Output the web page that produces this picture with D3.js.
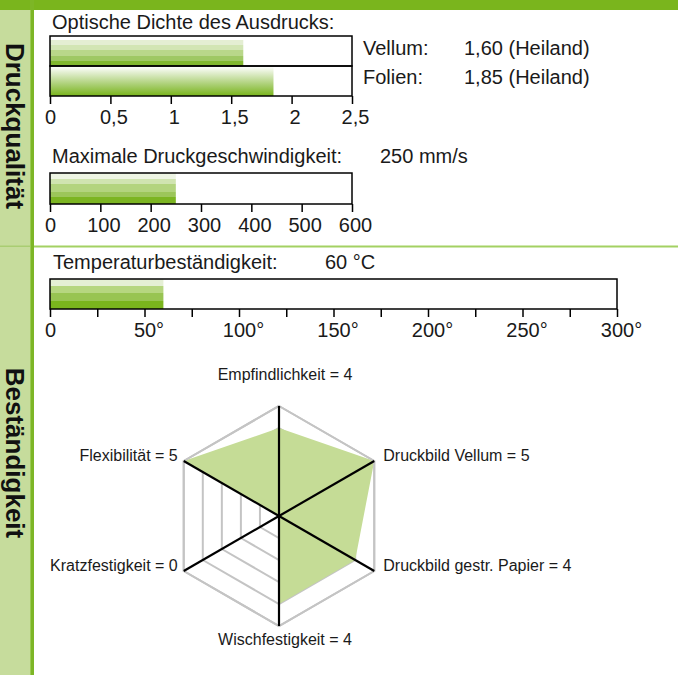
<!DOCTYPE html>
<html><head><meta charset="utf-8">
<script src="https://cdn.jsdelivr.net/npm/d3@7"></script>
<style>
body{margin:0;background:#fff}
svg{display:block;font-family:"Liberation Sans",Arial,sans-serif}
</style>
</head><body><svg id="c" width="678" height="675"></svg>
<script>
// ---------- data ----------
const sections = ["Druckqualität", "Beständigkeit"];

const densityTitle = "Optische Dichte des Ausdrucks:";
const densityCategories = ["Vellum", "Folien"];
const densityValues = [1.60, 1.85];
const densityValueLabels = ["1,60 (Heiland)", "1,85 (Heiland)"];
const densityTicks = [0, 0.5, 1, 1.5, 2, 2.5];
const densityTickLabels = ["0", "0,5", "1", "1,5", "2", "2,5"];

const speedTitle = "Maximale Druckgeschwindigkeit:";
const speedValues = [250];
const speedValueLabel = "250 mm/s";
const speedTicks = [0, 100, 200, 300, 400, 500, 600];
const speedTickLabels = ["0", "100", "200", "300", "400", "500", "600"];

const tempTitle = "Temperaturbeständigkeit:";
const tempValues = [60];
const tempValueLabel = "60 °C";
const tempTicks = [0, 25, 50, 75, 100, 125, 150, 175, 200, 225, 250, 275, 300];
const tempTickLabels = ["0", "", "50°", "", "100°", "", "150°", "", "200°", "", "250°", "", "300°"];

const radarAxes = ["Empfindlichkeit", "Druckbild Vellum", "Druckbild gestr. Papier", "Wischfestigkeit", "Kratzfestigkeit", "Flexibilität"];
const radarValues = [4, 5, 4, 4, 0, 5];
const radarLevels = [1, 2, 3, 4, 5];
const radarMax = 5;

// ---------- styling ----------
const GREEN = "#7ab51d";
const SIDE = "#c6dc9c";
const svg = d3.select("#c");
const defs = svg.append("defs");

function bandGradient(id, colors, fracs) {
  const g = defs.append("linearGradient").attr("id", id)
    .attr("x1", 0).attr("y1", 0).attr("x2", 0).attr("y2", 1);
  let acc = 0;
  colors.forEach((c, i) => {
    g.append("stop").attr("offset", acc).attr("stop-color", c);
    acc += fracs[i];
    g.append("stop").attr("offset", acc).attr("stop-color", c);
  });
}
bandGradient("bandA", ["#e4eed3", "#d2e5b4", "#b9d78a", "#9fc864", "#80b72e"], [0.2, 0.2, 0.2, 0.2, 0.2]);
bandGradient("bandS", ["#eef5e4", "#d0e4b0", "#b3d47e", "#9cc65a", "#7cb522"], [0.19, 0.17, 0.24, 0.16, 0.24]);
bandGradient("bandT", ["#e5efd5", "#b6d680", "#98c452", "#7ab51d"], [0.22, 0.25, 0.25, 0.28]);
const smooth = defs.append("linearGradient").attr("id", "smooth")
  .attr("x1", 0).attr("y1", 0).attr("x2", 0).attr("y2", 1);
[[0, "#ffffff"], [0.25, "#dcebc6"], [0.6, "#acd076"], [1, "#78b41b"]]
  .forEach(([o, c]) => smooth.append("stop").attr("offset", o).attr("stop-color", c));

// ---------- frame ----------
svg.append("rect").attr("x", 0).attr("y", 0).attr("width", 30).attr("height", 675).attr("fill", SIDE);
svg.append("rect").attr("x", 0).attr("y", 0).attr("width", 678).attr("height", 10).attr("fill", GREEN);
svg.append("rect").attr("x", 30).attr("y", 0).attr("width", 4).attr("height", 675).attr("fill", "#7db626");
svg.append("rect").attr("x", 30).attr("y", 10).attr("width", 1).attr("height", 665).attr("fill", "#9ccb55");
svg.append("rect").attr("x", 0).attr("y", 245.5).attr("width", 30).attr("height", 1.5).attr("fill", "#a9cd72");
svg.append("rect").attr("x", 34).attr("y", 245.5).attr("width", 644).attr("height", 2).attr("fill", "#a3d163");

const sectionCenters = [126, 453];
svg.selectAll("text.section").data(sections).join("text")
  .attr("class", "section")
  .attr("transform", (d, i) => `translate(6,${sectionCenters[i]}) rotate(90)`)
  .attr("text-anchor", "middle")
  .attr("font-weight", "bold").attr("font-size", 26).attr("fill", "#111")
  .text(d => d);

function title(txt, x, y) {
  svg.append("text").attr("x", x).attr("y", y).attr("font-size", 20).attr("fill", "#1a1a1a").text(txt);
}

function styleAxis(g) {
  g.select(".domain").remove();
  g.selectAll(".tick line").attr("stroke", "#000").attr("stroke-width", 1.5);
  g.selectAll(".tick text").attr("font-size", 20).attr("fill", "#1a1a1a")
    .attr("font-family", "Liberation Sans, Arial, sans-serif");
}

// ---------- chart 1: optical density ----------
title(densityTitle, 52, 28.5);
const x1 = d3.scaleLinear().domain([0, 2.5]).range([50, 352]);
const y1 = d3.scaleBand().domain(densityCategories).range([36, 96]);
svg.selectAll("rect.dbar").data(densityValues).join("rect")
  .attr("class", "dbar")
  .attr("x", x1(0))
  .attr("y", (d, i) => y1(densityCategories[i]) + (i === 0 ? 4 : 0.5))
  .attr("width", d => x1(d) - x1(0))
  .attr("height", (d, i) => y1.bandwidth() - (i === 0 ? 4 : 0.5))
  .attr("fill", (d, i) => i === 0 ? "url(#bandA)" : "url(#smooth)");
svg.selectAll("rect.dbox").data(densityCategories).join("rect")
  .attr("class", "dbox")
  .attr("x", x1(0)).attr("y", d => y1(d))
  .attr("width", x1(2.5) - x1(0)).attr("height", y1.bandwidth())
  .attr("fill", "none").attr("stroke", "#000").attr("stroke-width", 1.5);
const ax1 = svg.append("g").attr("transform", `translate(0,96)`)
  .call(d3.axisBottom(x1).tickValues(densityTicks).tickFormat((d, i) => densityTickLabels[i]).tickSize(8).tickPadding(6));
styleAxis(ax1);
ax1.selectAll(".tick text").attr("dx", (d, i) => i === 0 ? 0 : 3);
svg.selectAll("text.dcat").data(densityCategories).join("text")
  .attr("class", "dcat").attr("x", 363).attr("y", (d, i) => [55, 84][i])
  .attr("font-size", 20).attr("fill", "#1a1a1a").text(d => d + ":");
svg.selectAll("text.dval").data(densityValueLabels).join("text")
  .attr("class", "dval").attr("x", 464).attr("y", (d, i) => [55, 84][i])
  .attr("font-size", 20).attr("fill", "#1a1a1a").text(d => d);

// ---------- chart 2: speed ----------
title(speedTitle, 52, 163);
title(speedValueLabel, 380, 163);
const x2 = d3.scaleLinear().domain([0, 600]).range([50, 352]);
svg.selectAll("rect.sbar").data(speedValues).join("rect")
  .attr("class", "sbar").attr("x", x2(0)).attr("y", 173)
  .attr("width", d => x2(d) - x2(0)).attr("height", 31).attr("fill", "url(#bandS)");
svg.append("rect").attr("x", x2(0)).attr("y", 173).attr("width", x2(600) - x2(0)).attr("height", 31)
  .attr("fill", "none").attr("stroke", "#000").attr("stroke-width", 1.5);
const ax2 = svg.append("g").attr("transform", `translate(0,204)`)
  .call(d3.axisBottom(x2).tickValues(speedTicks).tickFormat((d, i) => speedTickLabels[i]).tickSize(8).tickPadding(5.5));
styleAxis(ax2);
ax2.selectAll(".tick text").attr("dx", (d, i) => i === 0 ? 0 : 3);

// ---------- chart 3: temperature ----------
title(tempTitle, 53, 269);
title(tempValueLabel, 325, 269);
const x3 = d3.scaleLinear().domain([0, 300]).range([50, 617]);
svg.selectAll("rect.tbar").data(tempValues).join("rect")
  .attr("class", "tbar").attr("x", x3(0)).attr("y", 279)
  .attr("width", d => x3(d) - x3(0)).attr("height", 30).attr("fill", "url(#bandT)");
svg.append("rect").attr("x", x3(0)).attr("y", 279).attr("width", x3(300) - x3(0)).attr("height", 30)
  .attr("fill", "none").attr("stroke", "#000").attr("stroke-width", 1.5);
const ax3 = svg.append("g").attr("transform", `translate(0,309)`)
  .call(d3.axisBottom(x3).tickValues(tempTicks).tickFormat((d, i) => tempTickLabels[i]).tickSize(8).tickPadding(6));
styleAxis(ax3);
ax3.selectAll(".tick text").attr("dx", (d, i) => i === 0 ? 0 : 4);

// ---------- radar ----------
const cx = 279, cy = 516;
const r = d3.scaleLinear().domain([0, radarMax]).range([0, 110]);
const ang = i => -Math.PI / 2 + i * 2 * Math.PI / radarAxes.length;
const pt = (i, v) => [cx + r(v) * Math.cos(ang(i)), cy + r(v) * Math.sin(ang(i))];
const rg = svg.append("g");
rg.selectAll("polygon.grid").data(radarLevels).join("polygon")
  .attr("class", "grid")
  .attr("points", lv => radarAxes.map((a, i) => pt(i, lv).join(",")).join(" "))
  .attr("fill", "none").attr("stroke", "#c4c4c4").attr("stroke-width", 2);
rg.append("polygon")
  .attr("points", radarValues.map((v, i) => pt(i, v).join(",")).join(" "))
  .attr("fill", "#c5dc96").attr("stroke", "none");
rg.append("polygon")
  .attr("points", radarAxes.map((a, i) => pt(i, radarMax).join(",")).join(" "))
  .attr("fill", "none").attr("stroke", "#c4c4c4").attr("stroke-width", 2);
rg.selectAll("line.axis").data(radarAxes).join("line")
  .attr("class", "axis")
  .attr("x1", cx).attr("y1", cy)
  .attr("x2", (d, i) => pt(i, radarMax)[0]).attr("y2", (d, i) => pt(i, radarMax)[1])
  .attr("stroke", "#000").attr("stroke-width", 2.2);
rg.selectAll("text.rl").data(radarAxes).join("text")
  .attr("class", "rl")
  .attr("font-size", 16).attr("fill", "#1a1a1a")
  .attr("text-anchor", (d, i) => { const c = Math.cos(ang(i)); return c > 0.1 ? "start" : c < -0.1 ? "end" : "middle"; })
  .attr("x", (d, i) => { const c = Math.cos(ang(i)); return pt(i, radarMax)[0] + (c > 0.1 ? 9 : c < -0.1 ? -6 : 6); })
  .attr("y", (d, i) => { const s = Math.sin(ang(i)); return pt(i, radarMax)[1] + (s < -0.9 ? -26 : s > 0.9 ? 19 : 0); })
  .text((d, i) => `${d} = ${radarValues[i]}`);
</script>
</body></html>
